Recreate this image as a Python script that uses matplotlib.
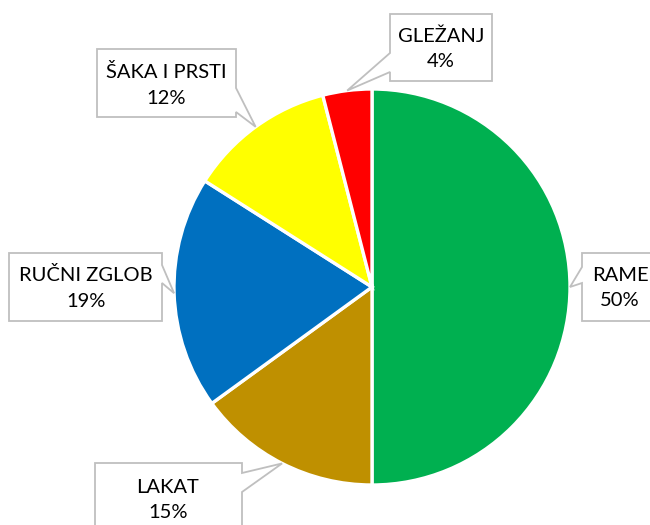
import numpy as np
import matplotlib
matplotlib.use('Agg')
import matplotlib.pyplot as plt
from matplotlib.patches import Polygon

plt.rcParams['font.family'] = ['Lato', 'DejaVu Sans']

# ================== Data ==================
LABELS = ['RAME', 'LAKAT', 'RUČNI ZGLOB', 'ŠAKA I PRSTI', 'GLEŽANJ']
VALUES = [50, 15, 19, 12, 4]
COLORS = ['#00B050', '#BF9000', '#0070C0', '#FFFF00', '#FF0000']

# ================== Layout (pixels, top-left origin) ==================
W, H = 650, 525
CENTER = (372, 287)
RADIUS = 198

# box: (left, top, right, bottom), pointer base side and range, text center
CALLOUTS = {
  'RAME':         dict(box=(582, 253, 660, 321), side='left',  base=(267, 283), txt=(620, 288)),
  'LAKAT':        dict(box=(95, 463, 242, 540),  side='right', base=(473, 492), txt=(168, 500)),
  'RUČNI ZGLOB':  dict(box=(9, 253, 162, 321),   side='right', base=(265, 283), txt=(86, 288)),
  'ŠAKA I PRSTI': dict(box=(97, 49, 236, 117),   side='right', base=(88, 112),  txt=(166, 85)),
  'GLEŽANJ':      dict(box=(390, 14, 492, 81),   side='left',  base=(53, 72),   txt=(441, 49)),
}

def py(y):
  return H - y

fig = plt.figure(figsize=(W / 100, H / 100), dpi=100)
ax = fig.add_axes([0, 0, 1, 1])

wedges, _ = ax.pie(VALUES, colors=COLORS, startangle=90, counterclock=False,
                   center=(CENTER[0], py(CENTER[1])), radius=RADIUS,
                   wedgeprops=dict(edgecolor='white', linewidth=2.4))

for w, lab, val in zip(wedges, LABELS, VALUES):
  c = CALLOUTS[lab]
  mid = np.deg2rad((w.theta1 + w.theta2) / 2)
  tip = (CENTER[0] + RADIUS * np.cos(mid), CENTER[1] - RADIUS * np.sin(mid))
  l, t, r, b = c['box']
  b0, b1 = c['base']
  if c['side'] == 'left':
    pts = [(l, t), (r, t), (r, b), (l, b), (l, b1), tip, (l, b0)]
  else:
    pts = [(l, t), (r, t), (r, b0), tip, (r, b1), (r, b), (l, b)]
  pts = [(x, py(y)) for x, y in pts]
  ax.add_patch(Polygon(pts, closed=True, facecolor='white', edgecolor='#BFBFBF',
                       linewidth=1.3, zorder=3))
  ax.text(c['txt'][0], py(c['txt'][1]), '%s\n%d%%' % (lab, val), ha='center', va='center',
          multialignment='center', fontsize=14.5, linespacing=1.6, color='#000000', zorder=4)

ax.set_xlim(0, W)
ax.set_ylim(0, H)
ax.set_aspect('equal')
ax.axis('off')

plt.savefig('out.png', dpi=100)
